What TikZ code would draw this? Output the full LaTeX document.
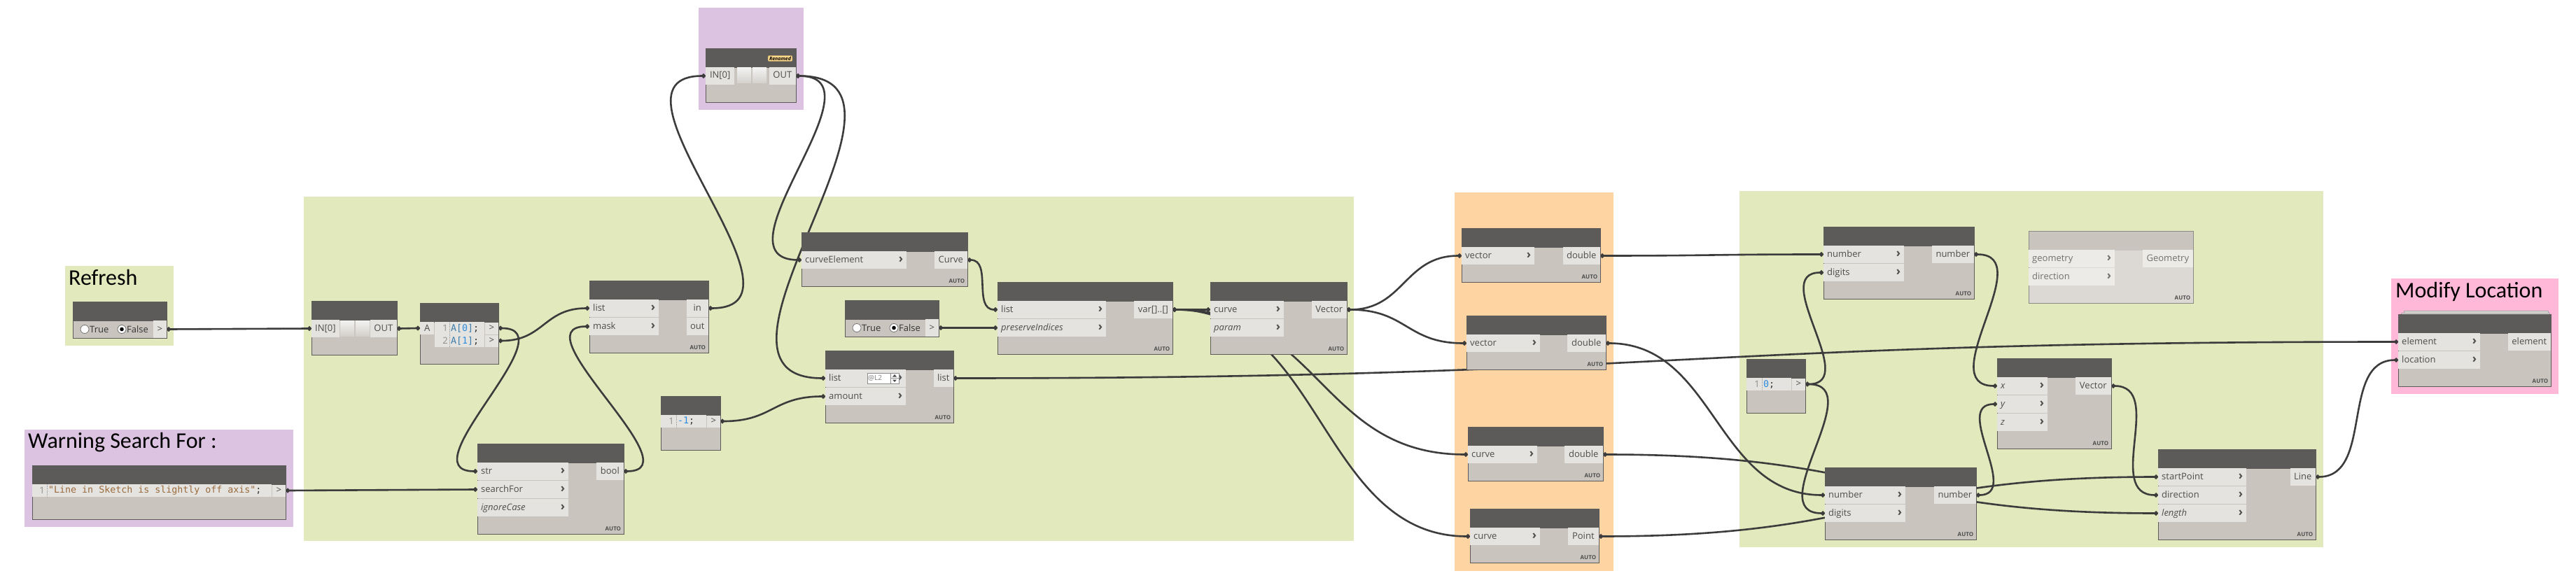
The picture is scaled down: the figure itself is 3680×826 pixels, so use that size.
\documentclass[tikz,border=0pt]{standalone}
\usepackage{fontspec}
\setmainfont{Open Sans}
\newfontfamily\titlefont{Carlito}
\newfontfamily\codefont{DejaVu Sans Mono}
\usepackage{tikz}
\usetikzlibrary{
    arrows.meta,
    calc,
    positioning
}
\hyphenpenalty=10000
\definecolor{headc}{HTML}{5C5B59}
\definecolor{bodyc}{HTML}{C9C5BE}
\definecolor{portc}{HTML}{E4E3DF}
\definecolor{edgec}{HTML}{5C5B59}
\definecolor{txtc}{HTML}{4D4D4D}
\definecolor{wirec}{HTML}{3C3C3C}
\definecolor{grpgreen}{HTML}{E1E9BD}
\definecolor{grppurple}{HTML}{DCC3E1}
\definecolor{grporange}{HTML}{FED4A2}
\definecolor{grppink}{HTML}{FFB8D7}
\definecolor{numc}{HTML}{2D8CE0}
\definecolor{varc}{HTML}{3D7DAD}
\definecolor{strc}{HTML}{9A6A3C}
\definecolor{badgec}{HTML}{FFD98C}
\definecolor{offhead}{HTML}{C9C5BE}
\definecolor{offbody}{HTML}{DCD9D4}
\definecolor{offport}{HTML}{ECEBE8}
\definecolor{offedge}{HTML}{8C8A87}
\newcommand{\portfont}{\fontsize{13}{15}\selectfont}
\newcommand{\chev}{\hfill{\fontsize{17}{15}\selectfont\bfseries ›}}
\pgfdeclarelayer{groups}
\pgfdeclarelayer{wires}
\pgfsetlayers{groups,wires,main}
\tikzset{
    dnode/.style={draw=edgec, fill=bodyc, line width=1.3pt, anchor=north west, inner sep=0pt,
        path picture={\fill[headc] (path picture bounding box.north west) rectangle ([yshift=-27pt]path picture bounding box.north east);}},
    off/.style={draw=offedge, fill=offbody,
        path picture={\fill[offhead] (path picture bounding box.north west) rectangle ([yshift=-27pt]path picture bounding box.north east);}},
    autotxt/.style={anchor=south east, xshift=-5pt, yshift=6pt, inner sep=0pt, text=txtc, font=\fontsize{8}{9}\selectfont\bfseries},
    autofoot/.style={append after command={node[autotxt] at (\tikzlastnode.south east) {AUTO}}},
    port/.style={fill=portc, minimum height=25pt, inner xsep=5pt, inner ysep=0pt, text height=9.5pt, text depth=2.5pt, align=left, font=\portfont, text=txtc},
    inport/.style={port, anchor=west, text width=#1pt},
    outport/.style={port, anchor=east, minimum width=#1pt},
    offp/.style={fill=offport, text=txtc!80!white},
    codein/.style={fill=portc, anchor=west, minimum width=20pt, minimum height=18pt, inner sep=0pt, font=\portfont, text=txtc},
    codeout/.style={fill=portc, anchor=east, minimum width=19pt, minimum height=17pt, inner sep=0pt, font=\portfont, text=txtc},
    lnum/.style={anchor=east, inner sep=0pt, font=\portfont, text=black!45},
    code/.style={anchor=west, inner sep=0pt, font=\codefont\fontsize{13.3}{16}\selectfont, text=black!80},
    lsep/.style={draw=black!35, densely dotted, line width=0.6pt},
    radio/.style={draw=black!55, fill=white, line width=0.8pt},
    rtext/.style={anchor=west, inner sep=0pt, font=\portfont, text=black!80},
    sq/.style={top color=white!95!black, bottom color=bodyc!80!white},
    badge/.style={fill=badgec, draw=badgec!70!black, line width=0.5pt, rounded corners=2pt, inner xsep=2pt, inner ysep=1.5pt, font=\fontsize{7}{8}\selectfont\bfseries\itshape},
    gtitle/.style={anchor=base west, inner sep=0pt, font=\titlefont\fontsize{32}{36}\selectfont},
    stack/.style={draw=black!35, fill=bodyc!60!white, line width=0.8pt},
    wire/.style={draw=wirec, line width=2.6pt, arrows={Circle[length=6pt]-Circle[length=6pt]}}
}
\newcommand{\dyn}[6][]{\node[dnode, minimum width=#5pt, minimum height=#6pt, #1] (#2) at (#3,#4) {};}
\newcommand{\inp}[6][]{\pgfmathsetmacro\tw{#5-10}\node[inport=\tw, #1] (#2) at (#3,#4) {#6\chev};}
\newcommand{\outp}[6][]{\node[outport=#5, #1] (#2) at (#3,#4) {#6};}
% wire from an output port to an input port
\newcommand{\wire}[2]{\draw[wire] let \p1=(#1.east), \p2=(#2.west), \n1={0.5*max(abs(\x2-\x1),abs(\y2-\y1))} in (\p1) .. controls +(\n1,0) and +(-\n1,0) .. (\p2);}

\begin{document}
\begin{tikzpicture}[x=1pt, y=-1pt]
    \useasboundingbox (0,0) rectangle (3680,826);
    \begin{pgfonlayer}{groups}
        \fill[white] (0,0) rectangle (3680,826);
        % groups
        \fill[grpgreen] (93,380) rectangle (248,494);
        \fill[grppurple] (35,614) rectangle (419,753);
        \fill[grpgreen] (434,281) rectangle (1934,773);
        \fill[grppurple] (998,11) rectangle (1148,157);
        \fill[grporange] (2078,275) rectangle (2305,816);
        \fill[grpgreen] (2485,273) rectangle (3319,782);
        \fill[grppink] (3416,398) rectangle (3655,563);
        \node[gtitle] (t-refresh) at (98,407) {Refresh};
        \node[gtitle] (t-warn) at (40,640) {Warning Search For :};
        \node[gtitle] (t-modloc) at (3422,425) {Modify Location};
    \end{pgfonlayer}

    % refresh toggle
    \dyn{refresh}{104}{431}{134}{52}
    \draw[radio] (121,470.5) circle (6pt);
    \node[rtext] at (128,471) {True};
    \draw[radio] (174,470.5) circle (6pt);
    \fill[black] (174,470.5) circle (2.8pt);
    \node[rtext] at (181,471) {False};
    \node[codeout, minimum height=25pt] (refresh-o) at (238,470.5) {>};

    % first pass-through
    \dyn{pass1}{445}{430}{122}{77}
    \node[port, anchor=west, minimum width=39pt] (pass1-i) at (445,469.5) {IN[0]};
    \shade[sq] (486,458) rectangle (506,480);
    \shade[sq] (508,458) rectangle (528,480);
    \node[port, anchor=east, minimum width=38pt] (pass1-o) at (567,469.5) {OUT};

    % A[0]; A[1];
    \dyn{codeA}{600}{433}{112}{87}
    \node[codein] (codeA-i) at (600,469) {A};
    \fill[portc] (621,460) rectangle (692,496);
    \draw[lsep] (642,460) -- (642,496);
    \node[lnum] at (640,469) {1};
    \node[lnum] at (640,487) {2};
    \node[code] at (644,469) {\textcolor{varc}{A[}\textcolor{numc}{0}\textcolor{varc}{]};};
    \node[code] at (644,487) {\textcolor{varc}{A[}\textcolor{numc}{1}\textcolor{varc}{]};};
    \node[codeout] (codeA-o1) at (712,469) {>};
    \node[codeout] (codeA-o2) at (712,487) {>};

    % filter by mask
    \dyn[autofoot]{filter}{842}{401}{170}{103}
    \inp{filter-list}{842}{440.5}{99}{list}
    \inp{filter-mask}{842}{466.5}{99}{mask}
    \outp{filter-in}{1012}{440.5}{31}{in}
    \outp{filter-out}{1012}{466.5}{31}{out}

    % renamed pass-through
    \dyn{pass2}{1008}{69}{129}{77}
    \node[badge] at (1114.5,83.5) {Renamed};
    \node[port, anchor=west, minimum width=41pt] (pass2-i) at (1008,108.5) {IN[0]};
    \shade[sq] (1053,97) rectangle (1073,119);
    \shade[sq] (1075,97) rectangle (1095,119);
    \node[port, anchor=east, minimum width=38pt] (pass2-o) at (1137,108.5) {OUT};

    % curve of element
    \dyn[autofoot]{getcurve}{1145}{332}{237}{77}
    \inp{getcurve-i}{1145}{371.5}{150}{curveElement}
    \outp{getcurve-o}{1382}{371.5}{47}{Curve}

    % second toggle
    \dyn{bool2}{1207}{429}{134}{52}
    \draw[radio] (1224,468.5) circle (6pt);
    \node[rtext] at (1231,469) {True};
    \draw[radio] (1277,468.5) circle (6pt);
    \fill[black] (1277,468.5) circle (2.8pt);
    \node[rtext] at (1284,469) {False};
    \node[codeout, minimum height=25pt] (bool2-o) at (1341,468.5) {>};

    % clean
    \dyn[autofoot]{clean}{1425}{403}{250}{103}
    \inp{clean-list}{1425}{442.5}{155}{list}
    \inp{clean-pres}{1425}{468.5}{155}{\textit{preserveIndices}}
    \outp{clean-o}{1675}{442.5}{55}{var[]..[]}

    % shift
    \dyn[autofoot]{shift}{1179}{501}{183}{103}
    \inp{shift-list}{1179}{540.5}{115}{list}
    \inp{shift-amount}{1179}{566.5}{115}{amount}
    \outp{shift-o}{1362}{540.5}{28}{list}
    \draw[draw=black!45, fill=white, line width=0.6pt] (1239,533) rectangle (1284,548);
    \node[anchor=west, inner sep=0pt, text=black!50, font=\fontsize{10}{10}\selectfont] (shift-lace) at (1240,540.5) {@L2};
    \draw[black!45, line width=0.6pt] (1272,533) -- (1272,548) (1272,540.5) -- (1284,540.5);
    \fill[black!70] (1275,538.5) -- (1281,538.5) -- (1278,535) -- cycle;
    \fill[black!70] (1275,542.5) -- (1281,542.5) -- (1278,546) -- cycle;

    % -1
    \dyn{minus1}{944}{566}{85}{77}
    \fill[portc] (944,593) rectangle (1009,611);
    \draw[lsep] (966,593) -- (966,611);
    \node[lnum] at (963,602) {1};
    \node[code] at (968,602) {\textcolor{numc}{-1};};
    \node[codeout] (minus1-o) at (1029,602) {>};

    % contains
    \dyn[autofoot]{contains}{682}{634}{209}{129}
    \inp{contains-str}{682}{673.5}{130}{str}
    \inp{contains-search}{682}{699.5}{130}{searchFor}
    \inp{contains-case}{682}{725.5}{130}{\textit{ignoreCase}}
    \outp{contains-o}{891}{673.5}{39}{bool}

    % warning text
    \dyn{warn}{46}{665}{362}{77}
    \fill[portc] (46,692) rectangle (388,710);
    \draw[lsep] (67,692) -- (67,710);
    \node[lnum] at (64,701) {1};
    \node[code] at (69,701) {\textcolor{strc}{"Line in Sketch is slightly off axis"};};
    \node[codeout] (warn-o) at (408,701) {>};

    % tangent
    \dyn[autofoot]{tangent}{1729}{403}{195}{103}
    \inp{tangent-curve}{1729}{442.5}{105}{curve}
    \inp{tangent-param}{1729}{468.5}{105}{\textit{param}}
    \outp{tangent-o}{1924}{442.5}{50}{Vector}

    % orange group
    \dyn[autofoot]{len1}{2088}{326}{198}{77}
    \inp{len1-i}{2088}{365.5}{104}{vector}
    \outp{len1-o}{2286}{365.5}{53}{double}
    \dyn[autofoot]{len2}{2095}{451}{199}{77}
    \inp{len2-i}{2095}{490.5}{105}{vector}
    \outp{len2-o}{2294}{490.5}{55}{double}
    \dyn[autofoot]{curvelen}{2097}{610}{193}{77}
    \inp{curvelen-i}{2097}{649.5}{99}{curve}
    \outp{curvelen-o}{2290}{649.5}{55}{double}
    \dyn[autofoot]{startpt}{2100}{727}{184}{77}
    \inp{startpt-i}{2100}{766.5}{100}{curve}
    \outp{startpt-o}{2284}{766.5}{44}{Point}

    % right group
    \dyn[autofoot]{round1}{2605}{324}{215}{103}
    \inp{round1-num}{2605}{363.5}{115}{number}
    \inp{round1-dig}{2605}{389.5}{115}{digits}
    \outp{round1-o}{2820}{363.5}{60}{number}
    \dyn[autofoot, off]{geom}{2898}{330}{235}{103}
    \inp[offp]{geom-geo}{2898}{369.5}{123}{geometry}
    \inp[offp]{geom-dir}{2898}{395.5}{123}{direction}
    \outp[offp]{geom-o}{3133}{369.5}{72}{Geometry}
    \dyn{zero}{2495}{513}{84}{77}
    \fill[portc] (2495,540) rectangle (2559,558);
    \draw[lsep] (2517,540) -- (2517,558);
    \node[lnum] at (2514,549) {1};
    \node[code] at (2519,549) {\textcolor{numc}{0};};
    \node[codeout] (zero-o) at (2579,549) {>};
    \dyn[autofoot]{vec}{2853}{512}{163}{129}
    \inp{vec-x}{2853}{551.5}{72}{\textit{x}}
    \inp{vec-y}{2853}{577.5}{72}{\textit{y}}
    \inp{vec-z}{2853}{603.5}{72}{\textit{z}}
    \outp{vec-o}{3016}{551.5}{51}{Vector}
    \dyn[autofoot]{round2}{2607}{668}{216}{103}
    \inp{round2-num}{2607}{707.5}{115}{number}
    \inp{round2-dig}{2607}{733.5}{115}{digits}
    \outp{round2-o}{2823}{707.5}{60}{number}
    \dyn[autofoot]{byline}{3083}{642}{225}{129}
    \inp{byline-start}{3083}{681.5}{126}{startPoint}
    \inp{byline-dir}{3083}{707.5}{126}{direction}
    \inp{byline-len}{3083}{733.5}{126}{\textit{length}}
    \outp{byline-o}{3308}{681.5}{36}{Line}

    % modify location
    \draw[stack] (3434,444) rectangle (3640,455);
    \draw[stack] (3430,447) rectangle (3642,455);
    \dyn[autofoot]{modloc}{3426}{449}{218}{103}
    \inp{modloc-el}{3426}{488.5}{117}{element}
    \inp{modloc-loc}{3426}{514.5}{117}{location}
    \outp{modloc-o}{3644}{488.5}{61}{element}

    \begin{pgfonlayer}{wires}
        \wire{refresh-o}{pass1-i}
        \wire{pass1-o}{codeA-i}
        \wire{codeA-o1}{contains-str}
        \wire{codeA-o2}{filter-list}
        \wire{contains-o}{filter-mask}
        \wire{warn-o}{contains-search}
        \wire{filter-in}{pass2-i}
        \wire{pass2-o}{getcurve-i}
        \wire{pass2-o}{shift-list}
        \wire{minus1-o}{shift-amount}
        \wire{getcurve-o}{clean-list}
        \wire{bool2-o}{clean-pres}
        \wire{clean-o}{tangent-curve}
        \wire{clean-o}{curvelen-i}
        \wire{clean-o}{startpt-i}
        \wire{tangent-o}{len1-i}
        \wire{tangent-o}{len2-i}
        \wire{shift-o}{modloc-el}
        \wire{len1-o}{round1-num}
        \wire{len2-o}{round2-num}
        \wire{curvelen-o}{byline-len}
        \wire{startpt-o}{byline-start}
        \wire{zero-o}{round1-dig}
        \wire{zero-o}{round2-dig}
        \wire{round1-o}{vec-x}
        \wire{round2-o}{vec-y}
        \wire{vec-o}{byline-dir}
        \wire{byline-o}{modloc-loc}
    \end{pgfonlayer}
\end{tikzpicture}
\end{document}
